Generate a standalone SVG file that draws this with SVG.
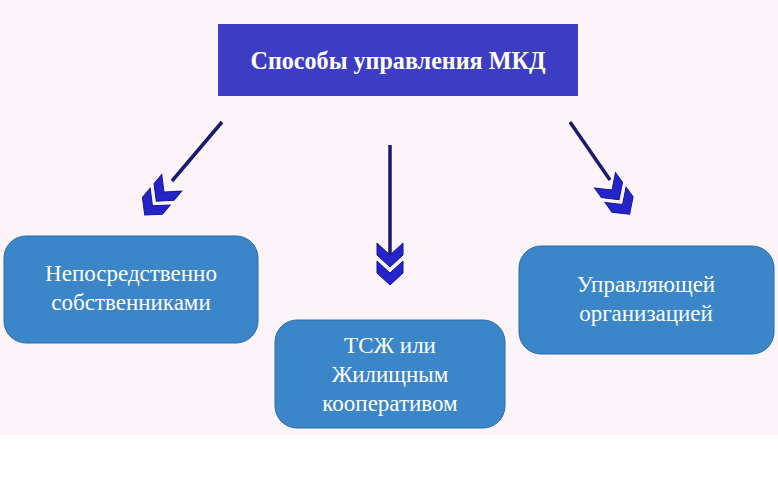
<svg xmlns="http://www.w3.org/2000/svg" width="778" height="485" viewBox="0 0 778 485">
<style>
.n{fill:#3b86c8;stroke:#2a6aa8;stroke-width:1}
.t{font-family:"Liberation Serif",serif;font-size:23px;fill:#fff;text-anchor:middle}
.l{stroke:#1a1a70;stroke-width:3.5;fill:none}
.c{fill:#2424c8;stroke:#1515a0;stroke-width:1}
</style>
<defs>
<g id="ch"><path class="c" d="M-13,-12 L0,0 L13,-12 L13,0 L0,12 L-13,0 Z"/><path class="c" d="M-13,6 L0,18 L13,6 L13,18 L0,30 L-13,18 Z"/></g>
</defs>
<rect width="778" height="435" fill="#fcf4f9"/>
<rect width="778" height="50" y="435" fill="#fff"/>
<g id="title"><rect x="218" y="24" width="360" height="72" fill="#3d3dc4"/><text x="398" y="69" class="t" style="font-weight:bold;font-size:25px" textLength="295" lengthAdjust="spacingAndGlyphs">Способы управления МКД</text></g>
<g id="connectors">
<line class="l" x1="222" y1="122" x2="172" y2="181"/>
<use href="#ch" transform="translate(164,192) rotate(40)"/>
<line class="l" x1="390" y1="145" x2="390" y2="255"/>
<use href="#ch" transform="translate(390,255)"/>
<line class="l" x1="570" y1="122" x2="610" y2="180"/>
<use href="#ch" transform="translate(612,190) rotate(-36)"/>
</g>
<g id="n1"><rect class="n" x="4" y="236" width="254" height="107" rx="22"/><text class="t" x="131" y="281">Непосредственно</text><text class="t" x="131" y="310">собственниками</text></g>
<g id="n2"><rect class="n" x="275" y="320" width="230" height="108" rx="22"/><text class="t" x="390" y="353">ТСЖ или</text><text class="t" x="390" y="382">Жилищным</text><text class="t" x="390" y="411">кооперативом</text></g>
<g id="n3"><rect class="n" x="519" y="246" width="255" height="108" rx="22"/><text class="t" x="646" y="292">Управляющей</text><text class="t" x="646" y="321">организацией</text></g>
</svg>
